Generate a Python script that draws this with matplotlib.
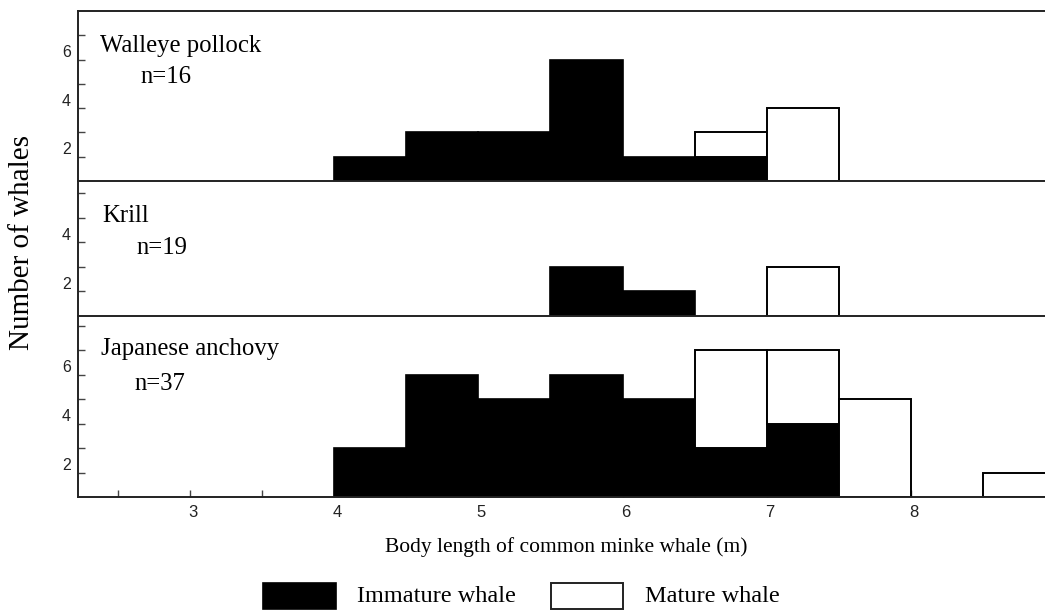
import matplotlib
matplotlib.use("Agg")
import matplotlib.pyplot as plt
import numpy as np
from matplotlib.patches import Rectangle
from matplotlib.transforms import ScaledTranslation

# ---- data (0.5 m length classes, left edges) ----
bin_left = [4.0, 4.5, 5.0, 5.5, 6.0, 6.5, 7.0, 7.5, 8.0, 8.5]
bin_width = 0.5

pollock_immature = [1, 2, 2, 5, 1, 1, 0, 0, 0, 0]
pollock_mature   = [0, 0, 0, 0, 0, 1, 3, 0, 0, 0]

krill_immature = [0, 0, 0, 2, 1, 0, 0, 0, 0, 0]
krill_mature   = [0, 0, 0, 0, 0, 0, 2, 0, 0, 0]

anchovy_immature = [2, 5, 4, 5, 4, 2, 3, 0, 0, 0]
anchovy_mature   = [0, 0, 0, 0, 0, 4, 3, 4, 0, 1]

panel_names = ["Walleye pollock", "Krill", "Japanese anchovy"]
panel_n = ["n=16", "n=19", "n=37"]
panel_ymax = [7.0, 5.5, 7.4]
panel_yticks = [[1, 2, 3, 4, 5, 6], [1, 2, 3, 4, 5], [1, 2, 3, 4, 5, 6, 7]]
ytick_labels_shown = [2, 4, 6]
xtick_major = [3, 4, 5, 6, 7, 8]
xtick_minor = [2.5, 3.5, 4.5, 5.5, 6.5, 7.5, 8.5]

W, H = 1045, 610
fig = plt.figure(figsize=(W / 100, H / 100), dpi=100)
fig.patch.set_facecolor("white")

serif = ["Liberation Serif", "DejaVu Serif"]
sans = ["Liberation Sans", "DejaVu Sans"]

def fx(px):
    return px / W

def fy(py):
    return 1 - py / H

# panel pixel extents (top, bottom)
panel_px = [(11, 181), (181, 316), (316, 497)]
left_px, right_px = 78, 1045
xlim = (2.226, 8.927)

imm = [pollock_immature, krill_immature, anchovy_immature]
mat = [pollock_mature, krill_mature, anchovy_mature]

axes = []
for i, (top, bot) in enumerate(panel_px):
    ax = fig.add_axes([fx(left_px), fy(bot), fx(right_px - left_px), (bot - top) / H])
    axes.append(ax)
    ax.set_xlim(*xlim)
    ax.set_ylim(0, panel_ymax[i])
    ax.bar(bin_left, imm[i], width=bin_width, align="edge", color="black",
           edgecolor="black", linewidth=1.2, zorder=2)
    ax.bar(bin_left, mat[i], width=bin_width, bottom=imm[i], align="edge",
           color="white", edgecolor="black", linewidth=1.4, zorder=2)
    for p in ax.patches:
        if p.get_height() == 0:
            p.set_visible(False)
    ax.spines["right"].set_visible(False)
    ax.spines["top"].set_visible(i == 0)
    for s in ax.spines.values():
        s.set_linewidth(1.4)
        s.set_color("#222222")
    ax.set_yticks(panel_yticks[i])
    ax.set_yticklabels([str(v) if v in ytick_labels_shown else "" for v in panel_yticks[i]],
                       fontfamily=sans, fontsize=11.5, color="#222222")
    ax.tick_params(axis="y", direction="in", length=5, width=1.0, pad=5, color="#444444")
    offset = ScaledTranslation(0, -16 / 100, fig.dpi_scale_trans)
    for lbl in ax.get_yticklabels():
        lbl.set_transform(lbl.get_transform() + offset)
    if i < 2:
        ax.set_xticks([])
    else:
        ax.set_xticks(xtick_major)
        ax.set_xticks(xtick_minor, minor=True)
        ax.set_xticklabels([str(v) for v in xtick_major], fontfamily=sans,
                           fontsize=12, color="#222222")
        ax.tick_params(axis="x", which="both", direction="in", length=5,
                       width=1.0, pad=6, color="#444444")
        xoff = ScaledTranslation(3 / 100, 0, fig.dpi_scale_trans)
        for lbl in ax.get_xticklabels():
            lbl.set_transform(lbl.get_transform() + xoff)
    ax.set_facecolor("none")

# panel titles
title_pos = [(100, 52), (102, 222), (101, 355)]
n_pos = [(140, 83), (136, 254), (134, 390)]
for i in range(3):
    fig.text(fx(title_pos[i][0]), fy(title_pos[i][1]), panel_names[i],
             fontfamily=serif, fontsize=17.8, va="baseline", ha="left")
    fig.text(fx(n_pos[i][0]), fy(n_pos[i][1]), panel_n[i],
             fontfamily=serif, fontsize=17.8, va="baseline", ha="left")

# axis labels
fig.text(fx(22), fy(243), "Number of whales", rotation=90, fontfamily=serif,
         fontsize=21, ha="center", va="center")
fig.text(fx(566), fy(547), "Body length of common minke whale (m)",
         fontfamily=serif, fontsize=15.5, ha="center", va="center")

# legend
fig.patches.append(Rectangle((fx(263), fy(609)), fx(73), (609 - 583) / H,
                             transform=fig.transFigure, facecolor="black",
                             edgecolor="black", linewidth=1.2))
fig.text(fx(357), fy(597), "Immature whale", fontfamily=serif, fontsize=17.5,
         ha="left", va="center")
fig.patches.append(Rectangle((fx(551), fy(609)), fx(72), (609 - 583) / H,
                             transform=fig.transFigure, facecolor="white",
                             edgecolor="#222222", linewidth=1.4))
fig.text(fx(645), fy(597), "Mature whale", fontfamily=serif, fontsize=17.5,
         ha="left", va="center")

fig.savefig("out.png", dpi=100)
